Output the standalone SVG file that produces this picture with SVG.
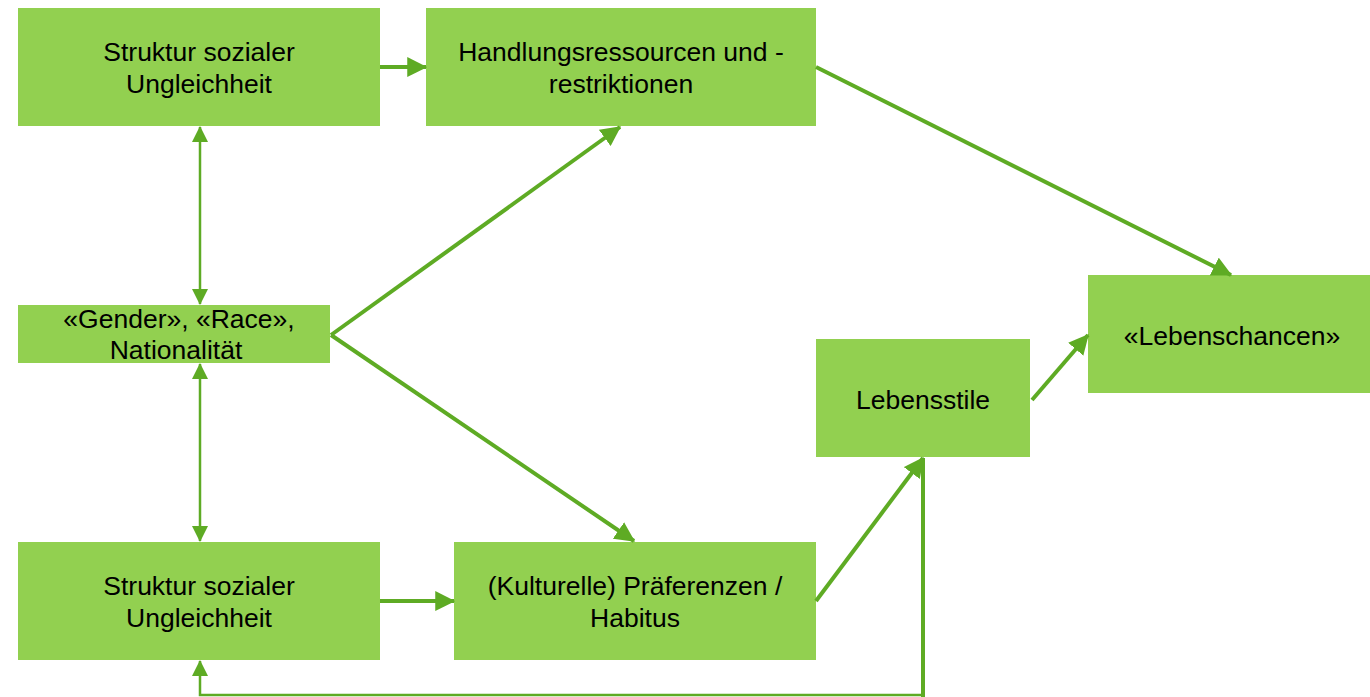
<svg xmlns="http://www.w3.org/2000/svg" width="1370" height="697" viewBox="0 0 1370 697">
<style>
.box{fill:#92D050}
.t{font-family:"Liberation Sans",Arial,sans-serif;font-size:26.5px;fill:#000;text-anchor:middle}
.thick{stroke:#5EAB24;stroke-width:4;fill:none}
.thin{stroke:#5EAB24;stroke-width:2.5;fill:none}
</style>
<defs>
<marker id="ah" markerUnits="userSpaceOnUse" markerWidth="20" markerHeight="20" viewBox="0 0 16 16" refX="15" refY="8" orient="auto">
<path d="M0,0 L16,8 L0,16 z" fill="#5EAB24"/>
</marker>
<marker id="ahs" markerUnits="userSpaceOnUse" markerWidth="16" markerHeight="16" viewBox="0 0 16 16" refX="15" refY="8" orient="auto-start-reverse">
<path d="M0,0 L16,8 L0,16 z" fill="#5EAB24"/>
</marker>
</defs>
<g id="n1"><rect class="box" x="18" y="8" width="362" height="118"/><text class="t" x="199" y="61">Struktur sozialer</text><text class="t" x="199" y="93">Ungleichheit</text></g>
<g id="n2"><rect class="box" x="426" y="8" width="390" height="118"/><text class="t" x="621" y="61">Handlungsressourcen und -</text><text class="t" x="621" y="93">restriktionen</text></g>
<g id="n3"><rect class="box" x="18" y="305" width="312" height="58"/><text class="t" x="179" y="328">«Gender», «Race»,</text><text class="t" x="176" y="359">Nationalität</text></g>
<g id="n4"><rect class="box" x="18" y="542" width="362" height="118"/><text class="t" x="199" y="595">Struktur sozialer</text><text class="t" x="199" y="627">Ungleichheit</text></g>
<g id="n5"><rect class="box" x="454" y="542" width="362" height="118"/><text class="t" x="635" y="595">(Kulturelle) Präferenzen /</text><text class="t" x="635" y="627">Habitus</text></g>
<g id="n6"><rect class="box" x="816" y="339" width="214" height="118"/><text class="t" x="923" y="409">Lebensstile</text></g>
<g id="n7"><rect class="box" x="1088" y="275" width="282" height="118"/><text class="t" x="1232" y="345">«Lebenschancen»</text></g>
<g id="connectors">
<line class="thick" x1="380" y1="67" x2="426" y2="67" marker-end="url(#ah)"/>
<line class="thin" x1="200" y1="127" x2="200" y2="304" marker-start="url(#ahs)" marker-end="url(#ahs)"/>
<line class="thin" x1="200" y1="364" x2="200" y2="541" marker-start="url(#ahs)" marker-end="url(#ahs)"/>
<line class="thick" x1="331" y1="335" x2="620" y2="127" marker-end="url(#ah)"/>
<line class="thick" x1="331" y1="335" x2="634" y2="541" marker-end="url(#ah)"/>
<line class="thick" x1="816" y1="67" x2="1231" y2="275" marker-end="url(#ah)"/>
<line class="thick" x1="380" y1="601" x2="454" y2="601" marker-end="url(#ah)"/>
<line class="thick" x1="816" y1="601" x2="923" y2="458" marker-end="url(#ah)"/>
<line class="thick" x1="1032" y1="400" x2="1088" y2="335" marker-end="url(#ah)"/>
<line class="thick" x1="923" y1="458" x2="923" y2="697"/>
<polyline class="thin" points="923,695 200,695 200,661" marker-end="url(#ahs)"/>
</g>
</svg>
